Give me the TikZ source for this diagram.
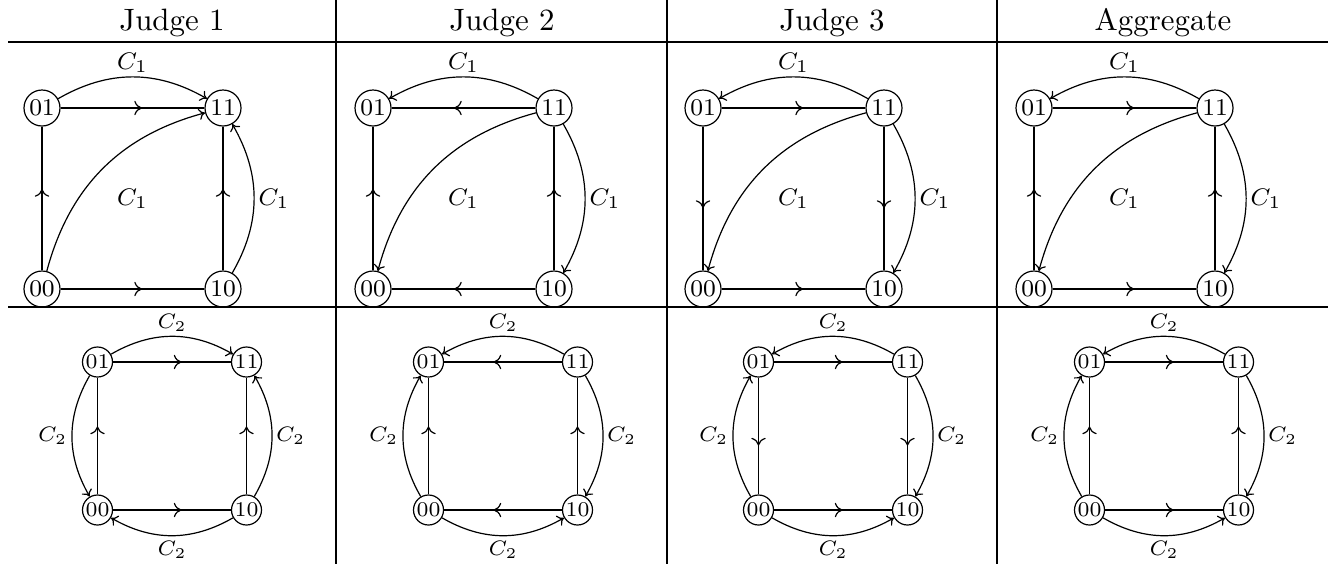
\documentclass[tikz,border=0pt]{standalone}
\usetikzlibrary{decorations.markings,calc,arrows.meta}
\tikzset{
  >={Computer Modern Rightarrow[length=2.1pt,width=3.8pt]},
  vt/.style={circle, draw, minimum size=12pt, inner sep=0pt, font=\fontsize{8}{9}\selectfont},
  vb/.style={circle, draw, minimum size=10pt, inner sep=0pt, font=\fontsize{7}{8}\selectfont},
  lt/.style={font=\fontsize{8}{9}\selectfont, inner sep=0pt},
  lb/.style={font=\fontsize{7}{8}\selectfont, inner sep=0pt},
  hdr/.style={font=\fontsize{10.3}{12}\selectfont, anchor=base, inner sep=0pt},
  midarr/.style={postaction={decorate}, decoration={markings,
     mark=at position {0.5*\pgfdecoratedpathlength+3.2pt} with
     {\arrow{Computer Modern Rightarrow[length=2.6pt,width=4.8pt]}}}},
  rule/.style={line width=0.4pt},
}
\newcommand\TopNodes[2]{%
  \node[vt] (#1-01) at ({42+#2},108) {01};
  \node[vt] (#1-11) at ({223+#2},108) {11};
  \node[vt] (#1-00) at ({42+#2},289) {00};
  \node[vt] (#1-10) at ({223+#2},289) {10};
  \node[lt] (#1-la) at ($(#1-01)!0.5!(#1-11)+(0,-45)$) {$C_1$};
  \node[lt] (#1-lb) at ($(#1-00)!0.5!(#1-11)$) {$C_1$};
  \node[lt] (#1-lc) at ($(#1-10)!0.5!(#1-11)+(51,0)$) {$C_1$};
}
\newcommand\BotNodes[2]{%
  \node[vb] (#1-01) at ({97.5+#2},362) {01};
  \node[vb] (#1-11) at ({246.5+#2},362) {11};
  \node[vb] (#1-00) at ({97.5+#2},510) {00};
  \node[vb] (#1-10) at ({246.5+#2},510) {10};
  \node[lb] (#1-la) at ($(#1-01)!0.5!(#1-11)+(0,-39)$) {$C_2$};
  \node[lb] (#1-lb) at ($(#1-00)!0.5!(#1-10)+(0,40)$) {$C_2$};
  \node[lb] (#1-lc) at ($(#1-01)!0.5!(#1-00)+(-45,0)$) {$C_2$};
  \node[lb] (#1-ld) at ($(#1-11)!0.5!(#1-10)+(44,0)$) {$C_2$};
}
% curves out of 11 (top row, judges 2, 3, aggregate)
\newcommand\TopFromEleven[1]{%
  \draw[->] (#1-11) to[bend right=30] (#1-01);
  \draw[->] (#1-11) to[bend right=30] (#1-00);
  \draw[->] (#1-11) to[bend left=30] (#1-10);
}
\newcommand\BotCurvesB[1]{%
  \draw[->] (#1-11) to[bend right=30] (#1-01);
  \draw[->] (#1-00) to[bend left=30] (#1-01);
  \draw[->] (#1-11) to[bend left=30] (#1-10);
  \draw[->] (#1-00) to[bend right=30] (#1-10);
}
\begin{document}
\begin{tikzpicture}[x=0.3333pt, y=-0.3333pt]
\useasboundingbox (0,0) rectangle (1341,564);
% table rules
\draw[rule] (8,42) -- (1328,42);
\draw[rule] (8,307) -- (1328,307);
\draw[rule] (336,0) -- (336,564);
\draw[rule] (667,0) -- (667,564);
\draw[rule] (997,0) -- (997,564);
% headers
\node[hdr] (h1) at (172,30) {Judge 1};
\node[hdr] (h2) at (502,30) {Judge 2};
\node[hdr] (h3) at (832,30) {Judge 3};
\node[hdr] (h4) at (1163,30) {Aggregate};

% ---------- top row ----------
\TopNodes{t1}{0}
\draw[midarr] (t1-01) -- (t1-11);
\draw[midarr] (t1-00) -- (t1-01);
\draw[midarr] (t1-10) -- (t1-11);
\draw[midarr] (t1-00) -- (t1-10);
\draw[->] (t1-01) to[bend left=30] (t1-11);
\draw[->] (t1-00) to[bend left=30] (t1-11);
\draw[->] (t1-10) to[bend right=30] (t1-11);

\TopNodes{t2}{331}
\draw[midarr] (t2-11) -- (t2-01);
\draw[midarr] (t2-00) -- (t2-01);
\draw[midarr] (t2-10) -- (t2-11);
\draw[midarr] (t2-10) -- (t2-00);
\TopFromEleven{t2}

\TopNodes{t3}{661}
\draw[midarr] (t3-01) -- (t3-11);
\draw[midarr] (t3-01) -- (t3-00);
\draw[midarr] (t3-11) -- (t3-10);
\draw[midarr] (t3-00) -- (t3-10);
\TopFromEleven{t3}

\TopNodes{t4}{992}
\draw[midarr] (t4-01) -- (t4-11);
\draw[midarr] (t4-00) -- (t4-01);
\draw[midarr] (t4-10) -- (t4-11);
\draw[midarr] (t4-00) -- (t4-10);
\TopFromEleven{t4}

% ---------- bottom row ----------
\BotNodes{b1}{0}
\draw[midarr] (b1-01) -- (b1-11);
\draw[midarr] (b1-00) -- (b1-01);
\draw[midarr] (b1-10) -- (b1-11);
\draw[midarr] (b1-00) -- (b1-10);
\draw[->] (b1-01) to[bend left=30] (b1-11);
\draw[->] (b1-10) to[bend right=30] (b1-11);
\draw[->] (b1-01) to[bend right=30] (b1-00);
\draw[->] (b1-10) to[bend left=30] (b1-00);

\BotNodes{b2}{331}
\draw[midarr] (b2-11) -- (b2-01);
\draw[midarr] (b2-00) -- (b2-01);
\draw[midarr] (b2-10) -- (b2-11);
\draw[midarr] (b2-10) -- (b2-00);
\BotCurvesB{b2}

\BotNodes{b3}{661}
\draw[midarr] (b3-01) -- (b3-11);
\draw[midarr] (b3-01) -- (b3-00);
\draw[midarr] (b3-11) -- (b3-10);
\draw[midarr] (b3-00) -- (b3-10);
\BotCurvesB{b3}

\BotNodes{b4}{992}
\draw[midarr] (b4-01) -- (b4-11);
\draw[midarr] (b4-00) -- (b4-01);
\draw[midarr] (b4-10) -- (b4-11);
\draw[midarr] (b4-00) -- (b4-10);
\BotCurvesB{b4}
\end{tikzpicture}
\end{document}
